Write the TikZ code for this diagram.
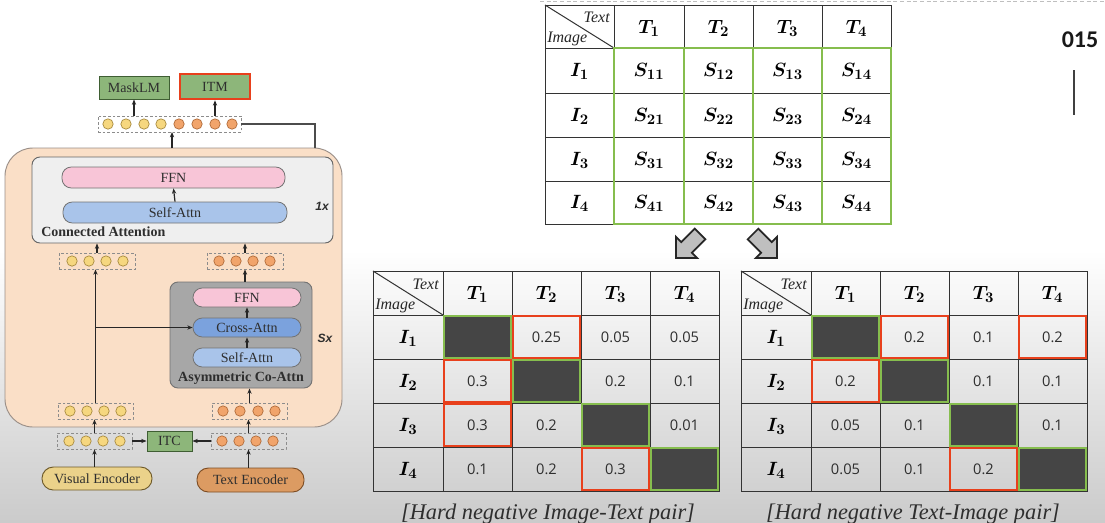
\documentclass[tikz,border=0pt]{standalone}
\usepackage{fontspec}
\setmainfont{Liberation Serif}
\newfontfamily\numfont{Open Sans}
\newfontfamily\arialf{Liberation Sans}
\newfontfamily\carlf{Carlito}
\usetikzlibrary{arrows.meta}
\definecolor{peach}{HTML}{FADFC7}
\definecolor{peachedge}{HTML}{9A8F88}
\definecolor{boxgreen}{HTML}{8DB67A}
\definecolor{boxgreenedge}{HTML}{3F5E33}
\definecolor{itmred}{HTML}{E8401C}
\definecolor{ffnpink}{HTML}{F8C5D7}
\definecolor{sablue}{HTML}{A9C4EA}
\definecolor{cablue}{HTML}{7BA2DD}
\definecolor{cagray}{HTML}{A7A7A7}
\definecolor{cabg}{HTML}{EFEFEF}
\definecolor{ytok}{HTML}{F6D77F}
\definecolor{yedge}{HTML}{A88A3E}
\definecolor{otok}{HTML}{F1A46B}
\definecolor{oedge}{HTML}{B06A38}
\definecolor{vencc}{HTML}{EBD28A}
\definecolor{vencedge}{HTML}{6E5A2A}
\definecolor{tencc}{HTML}{DC9B62}
\definecolor{tencedge}{HTML}{7E4E25}
\definecolor{tgreen}{HTML}{86BD4E}
\definecolor{darkcellc}{HTML}{454545}
\definecolor{bgray}{HTML}{CBCBCB}
\definecolor{txt}{HTML}{2E2E2E}
\tikzset{
  sz/.style 2 args={minimum width=#1*0.75pt, minimum height=#2*0.75pt},
  lab/.style={font=\fontsize{10.5}{12}\selectfont, text=txt},
  gbox/.style={lab, draw=boxgreenedge, fill=boxgreen, line width=0.7pt, inner sep=0pt},
  pill/.style={lab, draw=black!55, line width=0.6pt, rounded corners=7pt, inner sep=0pt},
  tokrow/.style={draw=black!45, dash pattern=on 2pt off 1.5pt, line width=0.6pt, inner sep=0pt},
  ytk/.style={circle, draw=yedge, fill=ytok, minimum size=7.8pt, inner sep=0pt, line width=0.5pt},
  otk/.style={circle, draw=oedge, fill=otok, minimum size=7.8pt, inner sep=0pt, line width=0.5pt},
  arr/.style={-{Stealth[length=4pt,width=3.2pt]}, line width=0.9pt, black!85},
  tline/.style={draw=black!80, line width=0.75pt},
  greencol/.style={draw=tgreen, line width=1.5pt},
  darkcell/.style={fill=darkcellc, draw=tgreen, line width=1.2pt},
  redcell/.style={draw=itmred, line width=1.5pt},
  hdr/.style={font=\boldmath\fontsize{15}{17}\selectfont, text=black, inner sep=0pt},
  hdtext/.style={font=\itshape\fontsize{12}{13}\selectfont, text=black!85, inner sep=0pt},
  num/.style={font=\numfont\fontsize{11}{12}\selectfont, text=txt, inner sep=0pt},
  captext/.style={font=\itshape\fontsize{16.8}{18}\selectfont, text=txt, inner sep=0pt},
  barrow/.style={fill=black!25, draw=black!85, line width=1.3pt, line join=miter},
}
% grid + headers of a lower table (local coordinates of the left one)
\newcommand\lowergrid{%
  \draw[tline] (373,271) rectangle (719,491);
  \foreach \x in {443,512,581,650} \draw[tline] (\x,271) -- (\x,491);
  \foreach \y in {315,359,403,447} \draw[tline] (373,\y) -- (719,\y);
  \draw[tline] (373,271) -- (443,315);
  \node[hdtext, anchor=east] (txt) at (439,284) {Text};
  \node[hdtext, anchor=west] (img) at (375,306) {Image};
  \foreach \j in {1,...,4} {\pgfmathsetmacro\cx{408.5+69*\j}
    \node[hdr] (T\j) at (\cx,294) {$T_{\j}$};}
  \foreach \i in {1,...,4} {\pgfmathsetmacro\cy{294+44*\i}
    \node[hdr] (I\i) at (408,\cy) {$I_{\i}$};}
  \foreach \k in {1,...,4} {\pgfmathsetmacro\xa{443+69*(\k-1)}\pgfmathsetmacro\ya{315+44*(\k-1)}
    \draw[darkcell] (\xa+1,\ya+1) rectangle (\xa+68,\ya+43);}
}
\newcommand\redcells[1]{%
  \foreach \i/\j in {#1} {\pgfmathsetmacro\xa{443+69*(\j-1)}\pgfmathsetmacro\ya{315+44*(\i-1)}
    \draw[redcell] (\xa+1,\ya+1) rectangle (\xa+68,\ya+43);}
}
\newcommand\cellvalues[1]{%
  \foreach \i/\j/\v in {#1} {\pgfmathsetmacro\cx{408.5+69*\j}\pgfmathsetmacro\cy{293+44*\i}
    \node[num] (v\i\j) at (\cx,\cy) {\v};}
}
\begin{document}
\begin{tikzpicture}[x=0.75pt,y=-0.75pt]
\useasboundingbox (0,0) rectangle (1105,522);
% background
\fill[white] (0,0) rectangle (1105,522);
\shade[top color=white, bottom color=bgray] (0,250) rectangle (1105,522);
\draw[black!25, dash pattern=on 3pt off 2pt, line width=0.8pt] (540,1.5) -- (1105,1.5);

% ================= left architecture =================
\node[fill=peach, draw=peachedge, line width=0.7pt, rounded corners=21pt, inner sep=0pt, sz={337}{279}] (peach) at (173.5,287.5) {};
\node[fill=cabg, draw=black!60, line width=0.7pt, rounded corners=6pt, inner sep=0pt, sz={301}{86}] (ca) at (182.5,200) {};
\node[pill, fill=ffnpink, sz={223}{21}] (ffnA) at (173.5,177.5) {FFN};
\node[pill, fill=sablue, sz={224}{21}] (saA) at (175,212.5) {Self-Attn};
\node[lab, font=\bfseries\fontsize{10.5}{12}\selectfont, anchor=west, inner sep=0pt] (calab) at (41,232) {Connected Attention};
\node[font=\arialf\bfseries\itshape\fontsize{9}{10}\selectfont, text=txt] (onex) at (322,206) {1x};
\draw[arr] (saA.north) -- (ffnA.south);

\node[fill=cagray, draw=black!55, line width=0.7pt, rounded corners=6pt, inner sep=0pt, sz={142}{106}] (co) at (241,335) {};
\node[pill, fill=ffnpink, sz={108}{19}] (ffnB) at (247,297.5) {FFN};
\node[pill, fill=cablue, sz={108}{19}] (cross) at (247,327.5) {Cross-Attn};
\node[pill, fill=sablue, sz={108}{19}] (saB) at (247,357.5) {Self-Attn};
\node[lab, font=\bfseries\fontsize{10.5}{12}\selectfont, inner sep=0pt] (colab) at (241,378) {Asymmetric Co-Attn};
\node[font=\arialf\bfseries\itshape\fontsize{9}{10}\selectfont, text=txt] (sx) at (325,338) {Sx};
\draw[arr] (saB.north) -- (cross.south);
\draw[arr] (cross.north) -- (ffnB.south);

% token rows
\node[tokrow, sz={143}{16}] (toprow) at (169.5,124) {};
\foreach \i/\x in {1/108,2/126,3/144,4/161} \node[ytk] (tp\i) at (\x,124) {};
\foreach \i/\x in {5/179,6/197,7/215,8/232} \node[otk] (tp\i) at (\x,124) {};

\node[tokrow, sz={76}{16}] (midL) at (97,261) {};
\foreach \i/\x in {1/72,2/89,3/106,4/123} \node[ytk] (ml\i) at (\x,261) {};
\node[tokrow, sz={76}{16}] (midR) at (245,261) {};
\foreach \i/\x in {1/219,2/236,3/253,4/270} \node[otk] (mr\i) at (\x,261) {};

\node[tokrow, sz={75}{16}] (botL) at (95.5,411) {};
\foreach \i/\x in {1/70,2/87,3/104,4/121} \node[ytk] (bl\i) at (\x,411) {};
\node[tokrow, sz={75}{16}] (botR) at (249.5,411) {};
\foreach \i/\x in {1/223,2/240,3/258,4/275} \node[otk] (br\i) at (\x,411) {};

\node[tokrow, sz={75}{16}] (encL) at (94.5,441) {};
\foreach \i/\x in {1/69,2/86,3/103,4/120} \node[ytk] (el\i) at (\x,441) {};
\node[tokrow, sz={75}{16}] (encR) at (248.5,441) {};
\foreach \i/\x in {1/222,2/239,3/256,4/273} \node[otk] (er\i) at (\x,441) {};

% heads
\node[gbox, sz={70}{23}] (masklm) at (134,87.5) {MaskLM};
\node[gbox, draw=itmred, line width=2pt, sz={70}{25}] (itm) at (215,86.5) {ITM};
\node[gbox, sz={45}{20}] (itc) at (169.5,441) {ITC};

% encoders
\node[lab, draw=vencedge, fill=vencc, line width=0.7pt, rounded corners=8.5pt, inner sep=0pt, sz={110}{23}] (venc) at (97,478.5) {Visual Encoder};
\node[lab, draw=tencedge, fill=tencc, line width=0.7pt, rounded corners=8.5pt, inner sep=0pt, sz={107}{24}] (tenc) at (250.5,480) {Text Encoder};

% connectors
\draw[arr] (masklm.south |- toprow.north) -- (masklm.south);
\draw[arr] (itm.south |- toprow.north) -- (itm.south);
\draw[arr] (172,148) -- (172,132);
\coordinate (fbk) at (315,148);
\draw[black!70, line width=0.9pt] (toprow.east) -| (fbk);
\draw[arr] (midL.north) -- (midL.north |- ca.south);
\draw[arr] (midR.north) -- (midR.north |- ca.south);
\draw[arr] (botL.north) -- (botL.north |- midL.south);
\draw[arr] (botL.north |- cross.west) -- (cross.west);
\draw[arr] (midR.south |- co.north) -- (midR.south);
\draw[arr] (botR.north) -- (botR.north |- co.south);
\draw[arr] (encL.north) -- (encL.north |- botL.south);
\draw[arr] (encR.north) -- (encR.north |- botR.south);
\draw[arr] (encL.east) -- (itc.west);
\draw[arr] (encR.west) -- (itc.east);
\draw[arr] (encL.south |- venc.north) -- (encL.south);
\draw[arr] (encR.south |- tenc.north) -- (encR.south);

% ================= top similarity table =================
\draw[tline] (545,5) rectangle (891,224);
\foreach \x in {614,684,753,822} \draw[tline] (\x,5) -- (\x,224);
\foreach \y in {48,93,137,181} \draw[tline] (545,\y) -- (891,\y);
\draw[tline] (545,5) -- (614,48);
\foreach \a/\b in {614/684,684/753,753/822,822/891} \draw[greencol] (\a,48) rectangle (\b,224);
\node[hdtext, anchor=east] (ttext) at (610,17) {Text};
\node[hdtext, anchor=west] (timg) at (547,39) {Image};
\foreach \j/\cx in {1/649,2/718.5,3/787.5,4/856.5}
  \node[hdr] (tT\j) at (\cx,28) {$T_{\j}$};
\foreach \i/\cy in {1/71,2/116,3/160,4/203} {
  \node[hdr] (tI\i) at (579.5,\cy) {$I_{\i}$};
  \foreach \j/\cx in {1/649,2/718.5,3/787.5,4/856.5}
    \node[hdr] (s\i\j) at (\cx,\cy) {$S_{\i\j}$};
}

% block arrows
\begin{scope}[shift={(688,246)}, rotate=-45]
  \draw[barrow] (-7.5,-17) -- (7.5,-17) -- (7.5,2) -- (15,2) -- (0,17) -- (-15,2) -- (-7.5,2) -- cycle;
\end{scope}
\begin{scope}[shift={(765,246)}, rotate=45]
  \draw[barrow] (-7.5,-17) -- (7.5,-17) -- (7.5,2) -- (15,2) -- (0,17) -- (-15,2) -- (-7.5,2) -- cycle;
\end{scope}

% ================= lower tables =================
\begin{scope}[name prefix=L-]
  \lowergrid
  \redcells{1/2,2/1,3/1,4/3}
  \cellvalues{1/2/0.25,1/3/0.05,1/4/0.05,2/1/0.3,2/3/0.2,2/4/0.1,3/1/0.3,3/2/0.2,3/4/0.01,4/1/0.1,4/2/0.2,4/3/0.3}
  \node[captext, anchor=base] (capL) at (548,519) {[Hard negative Image-Text pair]};
\end{scope}
\begin{scope}[xshift=276pt, name prefix=R-]
  \lowergrid
  \redcells{1/2,1/4,2/1,4/3}
  \cellvalues{1/2/0.2,1/3/0.1,1/4/0.2,2/1/0.2,2/3/0.1,2/4/0.1,3/1/0.05,3/2/0.1,3/4/0.1,4/1/0.05,4/2/0.1,4/3/0.2}
  \node[captext, anchor=base] (capR) at (545,519) {[Hard negative Text-Image pair]};
\end{scope}

% slide number
\node[font=\carlf\bfseries\fontsize{18}{20}\selectfont, text=black!90] (pg) at (1080,40) {015};
\draw[black!75, line width=1.1pt] (1074,70) -- (1074,115);
\end{tikzpicture}
\end{document}
